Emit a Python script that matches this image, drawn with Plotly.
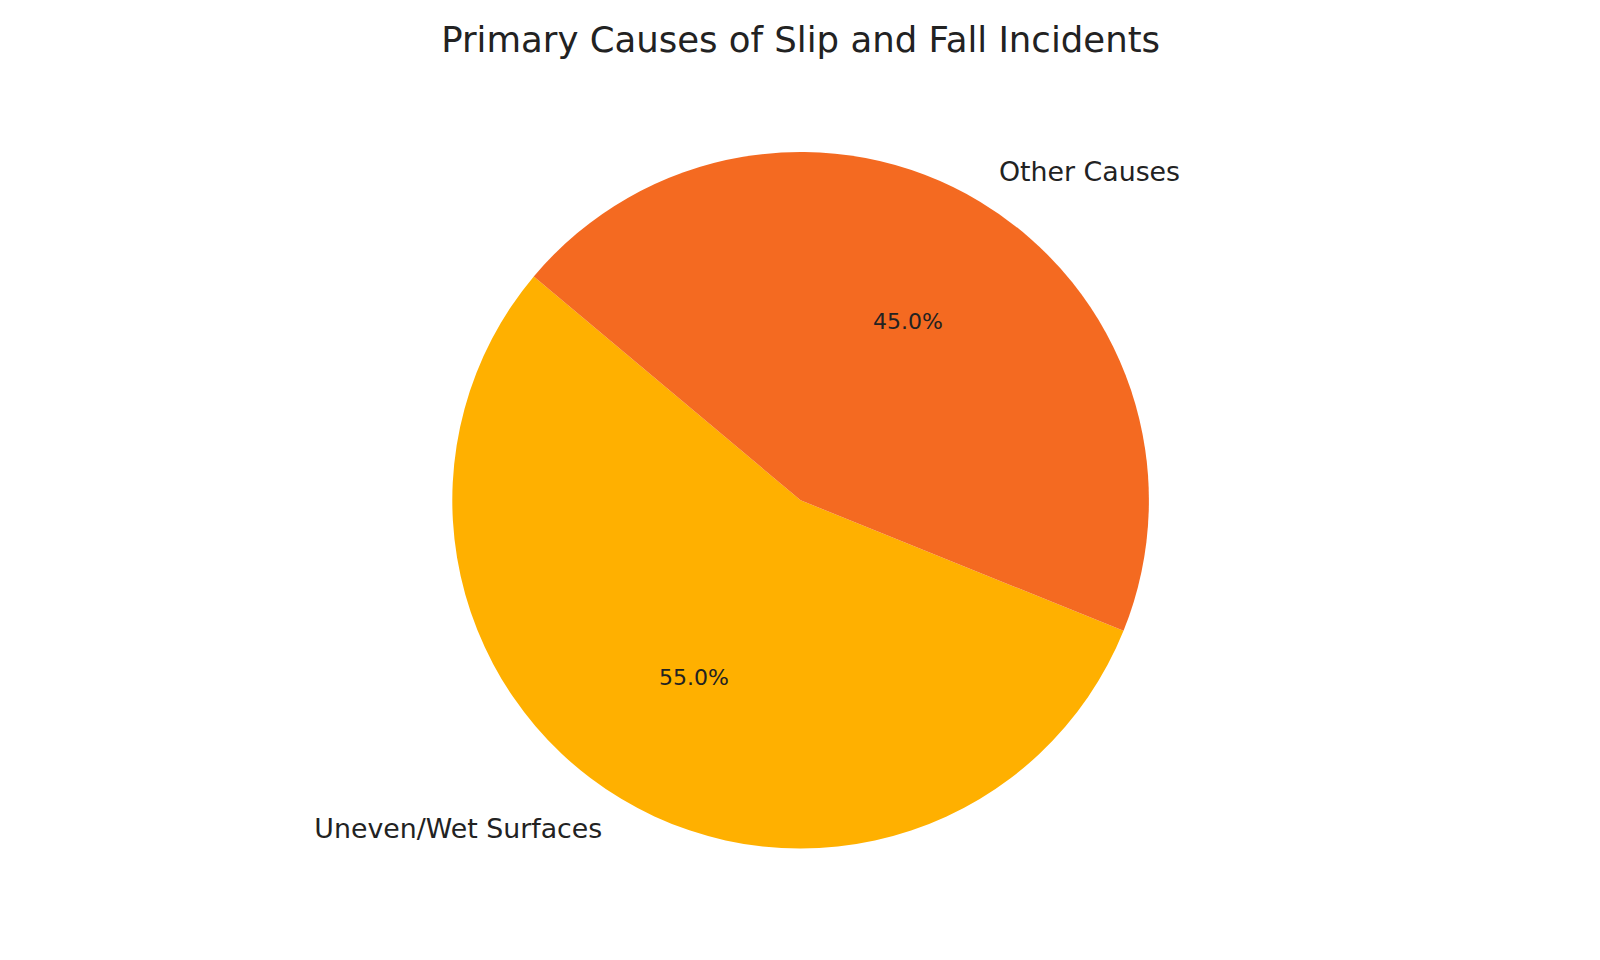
import plotly.graph_objects as go

# data
causes = ["Uneven/Wet Surfaces", "Other Causes"]
shares = [55, 45]
colors = ["#FFB000", "#F46A21"]

title_text = "Primary Causes of Slip and Fall Incidents"

W, H = 1600, 960
cx, cy, r = 792.6, 492.3, 348.3


def dom(rad):
    return dict(x=[(cx - rad) / W, (cx + rad) / W],
                y=[(H - cy - rad) / H, (H - cy + rad) / H])


common = dict(labels=causes, values=shares, sort=False,
              direction="clockwise", rotation=112, showlegend=False)

fig = go.Figure()

# the pie itself
fig.add_trace(go.Pie(
    **common,
    marker=dict(colors=colors, line=dict(width=0)),
    textinfo="none", domain=dom(r), hoverinfo="label+percent",
))

# transparent copy, bigger, so the percentages sit at ~0.6 of the radius
fig.add_trace(go.Pie(
    **common,
    marker=dict(colors=["rgba(0,0,0,0)"] * 2, line=dict(width=0)),
    textinfo="percent", texttemplate="%{percent:.1%}",
    textposition="inside", insidetextorientation="horizontal",
    textfont=dict(family="DejaVu Sans", size=22, color="#222222"),
    domain=dom(r * 1.19), hoverinfo="skip",
))

# transparent copy, slightly bigger, only for the outer labels
fig.add_trace(go.Pie(
    **common,
    marker=dict(colors=["rgba(0,0,0,0)"] * 2, line=dict(width=0)),
    textinfo="label", textposition="outside",
    outsidetextfont=dict(family="DejaVu Sans", size=26.8, color="#222222"),
    domain=dom(370), hoverinfo="skip",
))

fig.update_layout(
    width=W, height=H,
    margin=dict(l=0, r=0, t=0, b=0),
    paper_bgcolor="white", plot_bgcolor="white",
    title=dict(text=title_text, x=0.4954, xanchor="center", y=0.967, yanchor="middle",
               font=dict(family="DejaVu Sans", size=35.5, color="#222222")),
)

fig.write_html("out.html")
